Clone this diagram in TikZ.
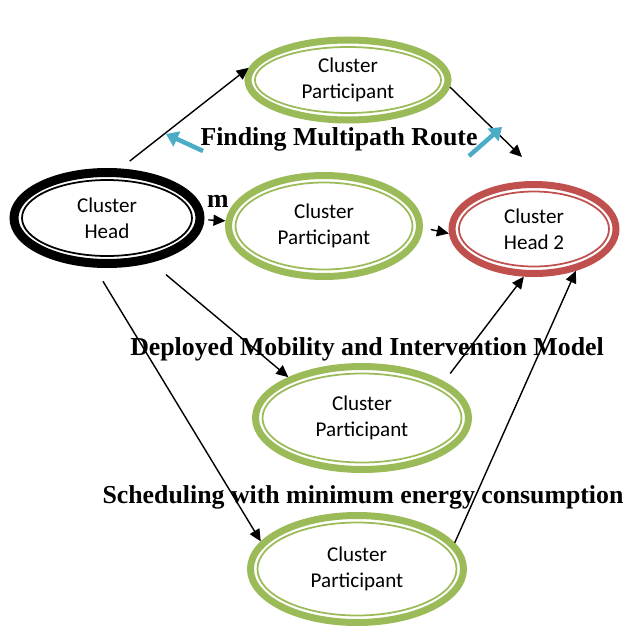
\documentclass[tikz,border=0pt]{standalone}
\usepackage{fontspec}
\setmainfont{Carlito}
\newfontfamily\titlefont{Liberation Serif}
\usepackage{xcolor}
\usepackage{tikz}
\usetikzlibrary{arrows.meta,shapes.geometric}
\definecolor{greenring}{HTML}{9BBB59}
\definecolor{redring}{HTML}{C0504D}
\definecolor{cyanarrow}{HTML}{4BACC6}
\tikzset{every node/.append style={font=\fontsize{12}{15}\selectfont},
  ring/.style={ellipse,draw,line width=7*0.02cm,align=center,inner sep=0pt},
  inner/.style={line width=1pt},
  link/.style={line width=0.8pt,-{Triangle[length=12*0.02cm,width=11*0.02cm]}},
  title/.style={font=\titlefont\bfseries\fontsize{14.7}{16}\selectfont}}

\begin{document}
\begin{tikzpicture}[x=0.02cm,y=-0.02cm]
  \useasboundingbox (0,0) rectangle (626,626);
  % cluster heads
  \node[ring,line width=9*0.02cm,minimum width=186*0.02cm,minimum height=91*0.02cm] (ch) at (107,218) {Cluster\\Head};
  \draw[inner] (ch.center) ellipse (85 and 38);
  \node[ring,redring,text=black,minimum width=164*0.02cm,minimum height=89*0.02cm] (ch2) at (534,229) {Cluster\\Head 2};
  \draw[inner,redring] (ch2.center) ellipse (75 and 37.5);
  % participants
  \node[ring,greenring,text=black,minimum width=200*0.02cm,minimum height=80*0.02cm] (cp1) at (348,80) {Cluster\\Participant};
  \draw[inner,greenring] (cp1.center) ellipse (93 and 33);
  \node[ring,greenring,text=black,minimum width=191*0.02cm,minimum height=101*0.02cm] (cp2) at (324,226) {Cluster\\Participant};
  \draw[inner,greenring] (cp2.center) ellipse (88.5 and 43.5);
  \node[ring,greenring,text=black,minimum width=213*0.02cm,minimum height=103*0.02cm] (cp3) at (362,418) {Cluster\\Participant};
  \draw[inner,greenring] (cp3.center) ellipse (99.5 and 44.5);
  \node[ring,greenring,text=black,minimum width=213*0.02cm,minimum height=107*0.02cm] (cp4) at (357,569) {Cluster\\Participant};
  \draw[inner,greenring] (cp4.center) ellipse (99.5 and 46.5);
  % titles
  \node[title] (t1) at (339,139) {Finding Multipath Route};
  \node[title] (t2) at (367,349) {Deployed Mobility and Intervention Model};
  \node[title] (t3) at (363,497) {Scheduling with minimum energy consumption};
  \node[title] (m) at (218,201) {m};
  % links
  \coordinate (e1) at (522,157);
  \draw[link,shorten <=12*0.02cm] (ch.75) -- (cp1.173);
  \draw[link] (cp1.-4) -- (e1);
  \draw[link,shorten <=4*0.02cm] (ch.-1) -- (cp2.177);
  \draw[link,shorten <=8*0.02cm] (cp2.-1) -- (ch2.183);
  \draw[link,shorten <=19*0.02cm] (ch.-45.5) -- (cp3.151);
  \draw[link,shorten <=16*0.02cm] (ch.-104) -- (cp4.164);
  \draw[link,shorten <=10*0.02cm] (cp3.24) -- (ch2.-102);
  \draw[link] (cp4.15.5) -- (ch2.-45.5);
  % cyan arrows
  \coordinate (c1) at (203,151);
  \coordinate (c2) at (166,134);
  \coordinate (c3) at (469,156);
  \coordinate (c4) at (502,127);
  \draw[cyanarrow,line width=4.5*0.02cm,-{Triangle[width=16*0.02cm,length=12*0.02cm]}] (c1) -- (c2);
  \draw[cyanarrow,line width=4.5*0.02cm,-{Triangle[width=16*0.02cm,length=12*0.02cm]}] (c3) -- (c4);
\end{tikzpicture}
\end{document}
